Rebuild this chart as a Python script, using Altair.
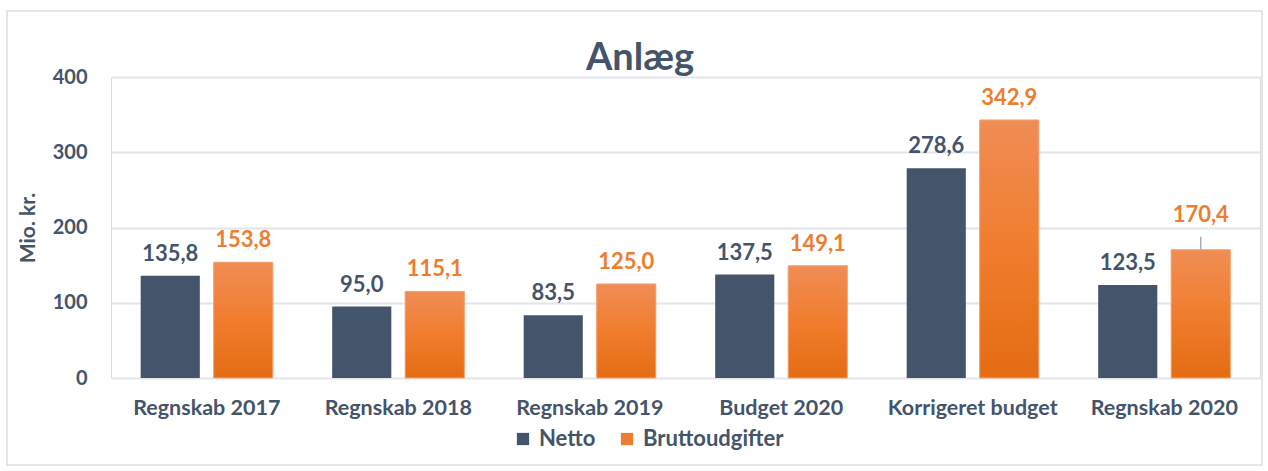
import altair as alt
import pandas as pd

categories = ["Regnskab 2017", "Regnskab 2018", "Regnskab 2019", "Budget 2020", "Korrigeret budget", "Regnskab 2020"]
netto = [135.8, 95.0, 83.5, 137.5, 278.6, 123.5]
brutto = [153.8, 115.1, 125.0, 149.1, 342.9, 170.4]
series = ["Netto", "Bruttoudgifter"]
title_text = ["Anlæg"]

rows = []
for c, n, b in zip(categories, netto, brutto):
    rows.append({"cat": c, "serie": "Netto", "v": n, "lbl": f"{n:.1f}".replace(".", ",")})
    rows.append({"cat": c, "serie": "Bruttoudgifter", "v": b, "lbl": f"{b:.1f}".replace(".", ",")})
df = pd.DataFrame(rows)

FONT = "Lato"
DARK = "#44546A"
ORANGE = "#ED7D31"

x = alt.X("cat:N", sort=categories, title=None,
          scale=alt.Scale(paddingInner=0.31, paddingOuter=0.155),
          axis=alt.Axis(labelAngle=0, labelFont=FONT, labelFontSize=21.5, labelFontWeight="bold",
                        labelColor=DARK, labelPadding=19, ticks=False, domain=False))
xo = alt.XOffset("serie:N", sort=series, scale=alt.Scale(paddingInner=0.19))
y = alt.Y("v:Q", scale=alt.Scale(domain=[0, 400]), title="Mio. kr.",
          axis=alt.Axis(values=[0, 100, 200, 300, 400], labelFont=FONT, labelFontSize=20,
                        labelFontWeight="bold", labelColor=DARK, labelPadding=24, ticks=False,
                        domain=False, gridColor="#E1E5EB", gridWidth=2,
                        titleFont=FONT, titleFontSize=21, titleFontWeight="bold", titleColor=DARK,
                        titlePadding=14))

base = alt.Chart(df)

frame = alt.Chart(pd.DataFrame({"k": [0]})).mark_rect(
    fill=None, stroke="#DADDE2", strokeWidth=1.5
).encode(x=alt.value(-104), x2=alt.value(1151), y=alt.value(-66), y2=alt.value(388))

title = alt.Chart(pd.DataFrame({"t": title_text})).mark_text(
    font=FONT, fontSize=38, fontWeight="bold", color=DARK, align="center", baseline="alphabetic"
).encode(x=alt.value(529), y=alt.value(-7), text="t:N")

bars = base.mark_bar().encode(
    x=x, xOffset=xo, y=y,
    color=alt.Color("serie:N", sort=series,
                    scale=alt.Scale(domain=series, range=[DARK, ORANGE]),
                    legend=alt.Legend(title=None, orient="none", direction="horizontal",
                                      legendX=401, legendY=351, symbolType="square", symbolSize=150,
                                      symbolStrokeWidth=0,
                                      labelFont=FONT, labelFontSize=22, labelFontWeight="bold",
                                      labelColor=DARK, columnPadding=20, labelOffset=5)),
)

grad = alt.Gradient(gradient="linear", x1=0, x2=0, y1=0, y2=1,
                    stops=[alt.GradientStop(color="#F08D55", offset=0),
                           alt.GradientStop(color="#F07D2E", offset=0.5),
                           alt.GradientStop(color="#E46C12", offset=1)])
brutto_bars = base.transform_filter(alt.datum.serie == "Bruttoudgifter").mark_bar(
    fill=grad, stroke="#F3A57A", strokeWidth=1).encode(x=x, xOffset=xo, y=y)

labels_n = base.transform_filter(alt.datum.serie == "Netto").mark_text(
    dy=-10, baseline="bottom", font=FONT, fontSize=22, fontWeight="bold", color=DARK
).encode(x=x, xOffset=xo, y=y, text="lbl:N")

labels_b = base.transform_filter(
    (alt.datum.serie == "Bruttoudgifter") & (alt.datum.cat != "Regnskab 2020")).mark_text(
    dy=-10, baseline="bottom", font=FONT, fontSize=22, fontWeight="bold", color=ORANGE
).encode(x=x, xOffset=xo, y=y, text="lbl:N")

labels_b2 = base.transform_filter(
    (alt.datum.serie == "Bruttoudgifter") & (alt.datum.cat == "Regnskab 2020")).mark_text(
    dy=-23, baseline="bottom", font=FONT, fontSize=22, fontWeight="bold", color=ORANGE
).encode(x=x, xOffset=xo, y=y, text="lbl:N")

leader = base.transform_filter(
    (alt.datum.serie == "Bruttoudgifter") & (alt.datum.cat == "Regnskab 2020")).mark_rule(
    color="#A6AEBA", strokeWidth=1.5, y2Offset=-13
).encode(x=x, xOffset=xo, y=y, y2="v:Q")

chart = alt.layer(frame, title, bars, brutto_bars, leader, labels_n, labels_b, labels_b2).properties(
    width=1149, height=301,
    autosize=alt.AutoSizeParams(type="none"),
    padding={"left": 111, "top": 77, "right": 8, "bottom": 93},
).configure_view(stroke=None).configure(background="white")

chart.save("out.html", embed_options={"renderer": "svg", "actions": False})
